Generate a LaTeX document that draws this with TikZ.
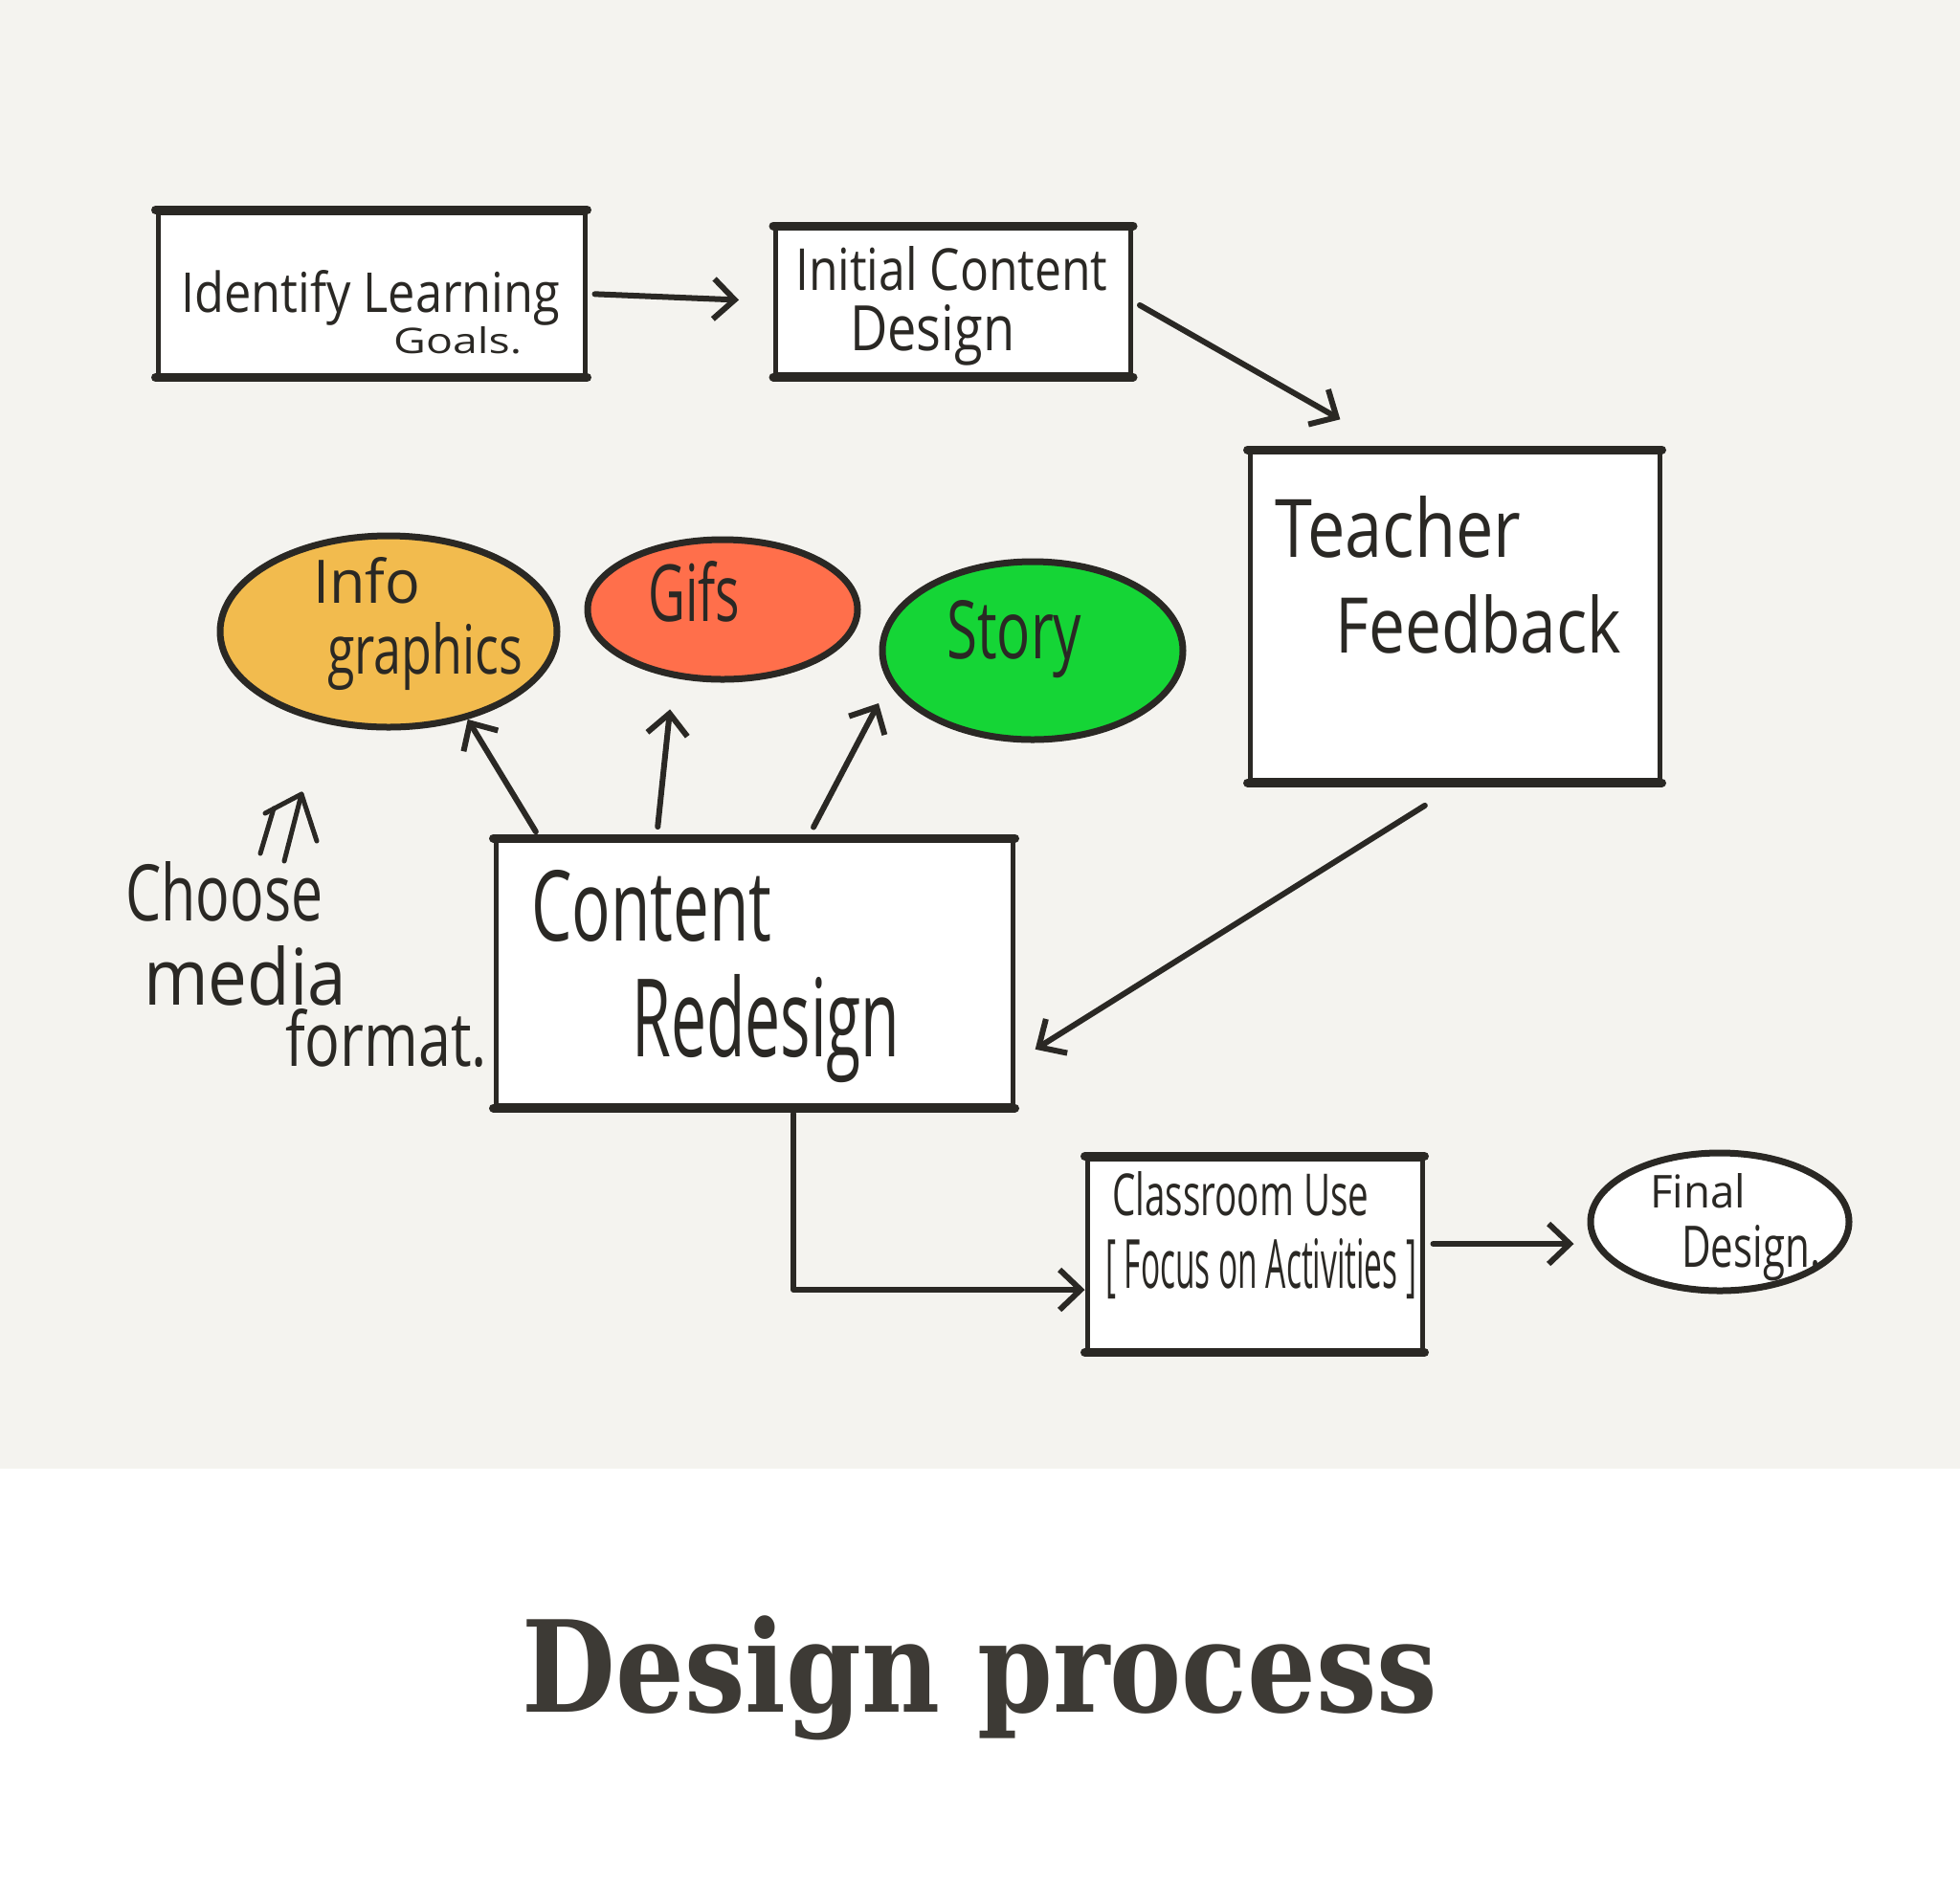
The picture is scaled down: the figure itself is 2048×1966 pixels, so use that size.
\documentclass[tikz,border=0pt]{standalone}
\usepackage{fontspec}
\usetikzlibrary{arrows.meta,calc,shapes.geometric}
\newfontfamily\hand{Open Sans}[FakeStretch=0.75]
\newfontfamily\titlefont{DejaVu Serif}[FakeStretch=0.85]
\definecolor{ink}{HTML}{2A2824}
\definecolor{paper}{HTML}{F4F3EF}
\definecolor{titlec}{HTML}{3D3A35}
\definecolor{infoc}{HTML}{F2BB4E}
\definecolor{gifc}{HTML}{FF6F4B}
\definecolor{storyc}{HTML}{15D536}
\newcommand\hw[3]{\resizebox{#1pt}{#2pt}{\hand #3}}
\begin{document}
\begin{tikzpicture}[x=1pt,y=-1pt,line cap=round,line join=round,
  boxnode/.style={draw=ink,fill=white,line width=5pt,inner sep=0pt},
  oval/.style={ellipse,draw=ink,line width=7pt,inner sep=0pt},
  arr/.style={draw=ink,line width=6pt,-{Straight Barb[length=22pt,width=42pt]}},
  txt/.style={inner sep=0pt,anchor=base west,text=ink},
  edge/.style={draw=ink,line width=9pt}]
\useasboundingbox (0,0) rectangle (2048,1966);
\fill[white] (0,0) rectangle (2048,1966);
\fill[paper] (0,0) rectangle (2048,1535);

% boxes
\node[boxnode,minimum width=446pt,minimum height=170pt] (goals) at (388,307) {};
\node[boxnode,minimum width=371pt,minimum height=153pt] (initial) at (996,315) {};
\node[boxnode,minimum width=428pt,minimum height=343pt] (teacher) at (1520,644) {};
\node[boxnode,minimum width=540pt,minimum height=277pt] (redesign) at (788,1017) {};
\node[boxnode,minimum width=350pt,minimum height=200pt] (classroom) at (1311,1311) {};
\foreach \b in {goals,initial,teacher,redesign,classroom}{
  \draw[edge] (\b.north west) -- (\b.north east);
  \draw[edge] (\b.south west) -- (\b.south east);
}

% ellipses
\node[oval,fill=infoc,minimum width=352pt,minimum height=200pt] (info) at (406,660) {};
\node[oval,fill=gifc,minimum width=282pt,minimum height=146pt] (gifs) at (755,637) {};
\node[oval,fill=storyc,minimum width=314pt,minimum height=186pt] (story) at (1079,680) {};
\node[oval,fill=white,minimum width=270pt,minimum height=144pt] (final) at (1797,1277) {};

% texts
\node[txt] (t1) at (189,326) {\hw{396}{44}{Identify Learning}};
\node[txt] (t2) at (411,369) {\hw{134}{28}{Goals.}};
\node[txt] (t3) at (831,303) {\hw{326}{46}{Initial Content}};
\node[txt] (t4) at (888,366) {\hw{172}{48}{Design}};
\node[txt] (t5) at (1332,582) {\hw{257}{64}{Teacher}};
\node[txt] (t6) at (1395,682) {\hw{299}{61}{Feedback}};
\node[txt] (t7) at (555,983) {\hw{251}{74}{Content}};
\node[txt] (t8) at (660,1104) {\hw{280}{86}{Redesign}};
\node[txt] (t9) at (327,630) {\hw{112}{48}{Info}};
\node[txt] (t10) at (342,704) {\hw{204}{54}{graphics}};
\node[txt] (t11) at (677,649) {\hw{96}{63}{Gifs}};
\node[txt] (t12) at (989,688) {\hw{141}{61}{Story}};
\node[txt] (t13) at (131,962) {\hw{206}{62}{Choose}};
\node[txt] (t14) at (150,1050) {\hw{212}{62}{media}};
\node[txt] (t15) at (298,1114) {\hw{211}{60}{format.}};
\node[txt] (t16) at (1162,1270) {\hw{268}{46}{Classroom Use}};
\node[txt] (t17) at (1155,1346) {\hw{325}{52}{[ Focus on Activities ]}};
\node[txt] (t18) at (1724,1262) {\hw{100}{36}{Final}};
\node[txt] (t19) at (1757,1324) {\hw{145}{44}{Design.}};

% small arrow above "Choose"
\coordinate (sa1) at (297,900);
\coordinate (sa2) at (315,830);
\coordinate (sa3) at (277,850);
\coordinate (sa4) at (331,879);
\coordinate (sa5) at (272,892);
\coordinate (sa6) at (286,845);
\draw[ink,line width=5pt] (sa1) -- (sa2);
\draw[ink,line width=5pt] (sa3) -- (sa2) -- (sa4);
\draw[ink,line width=5pt] (sa5) -- (sa6);

% connectors
\draw[arr,shorten <=8pt,shorten >=36pt] (goals.east) -- (initial.west);
\draw[arr,shorten <=8pt,shorten >=64pt] (initial.east) -- ($(teacher.north)+(-64,0)$);
\draw[arr,shorten <=45pt,shorten >=25pt] ($(teacher.south)+(7,0)$) -- ($(redesign.east)+(0,93)$);
\draw[arr,shorten <=8pt] ($(redesign.north)+(-224,0)$) -- (info.312);
\draw[arr,shorten <=12pt,shorten >=28pt] ($(redesign.north)+(-102,0)$) -- ($(gifs.south)+(-52,0)$);
\draw[arr,shorten <=13pt] ($(redesign.north)+(56,0)$) -- ($(story.center)+(-161,55)$);
\draw[arr] ($(redesign.south)+(41,6)$) |- ($(classroom.west)+(0,37)$);
\draw[arr,shorten <=9pt,shorten >=14pt] ($(classroom.east)+(0,-11)$) -- ($(final.west)+(0,23)$);

% title
\node[inner sep=0pt,anchor=base,text=titlec] (title) at (1024,1789)
  {\resizebox{956pt}{!}{\titlefont\bfseries Design process}};
\end{tikzpicture}
\end{document}
